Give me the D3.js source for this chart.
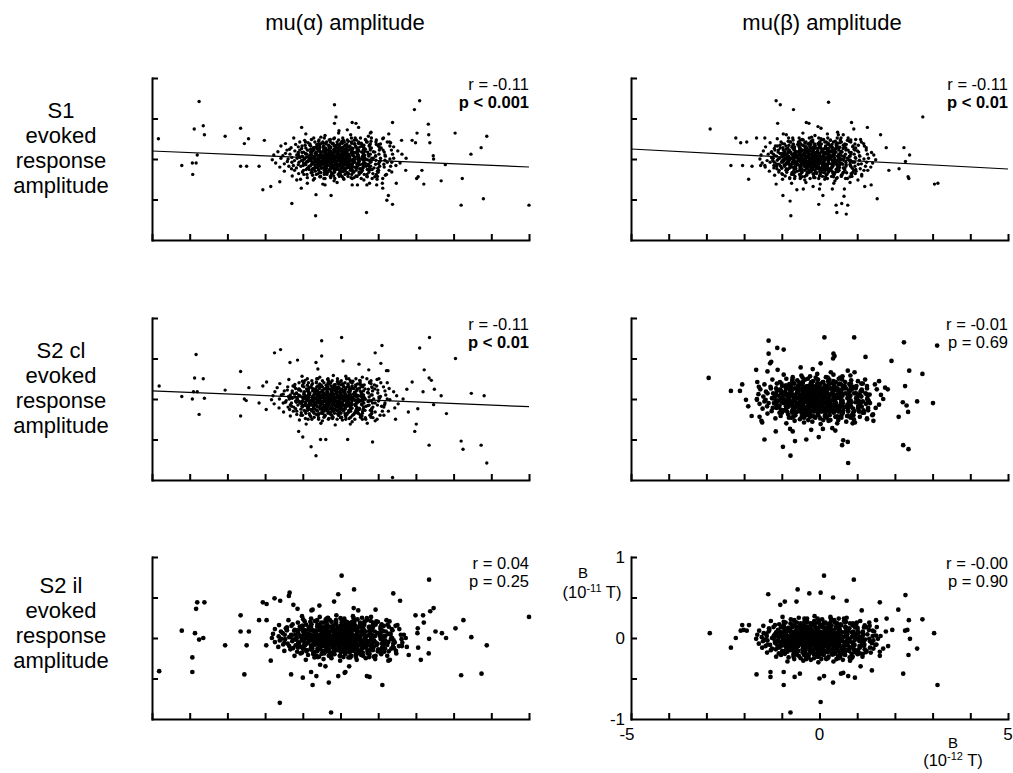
<!DOCTYPE html>
<html>
<head>
<meta charset="utf-8">
<script src="https://cdn.jsdelivr.net/npm/d3@7"></script>
<style>
  html, body { margin: 0; padding: 0; background: #fff; }
  svg { display: block; font-family: "Liberation Sans", Arial, sans-serif; }
</style>
</head>
<body>
<script>
// Column and row headings
const colTitles = ["mu(\u03b1) amplitude", "mu(\u03b2) amplitude"];
const rowTitles = [
  ["S1", "evoked", "response", "amplitude"],
  ["S2 cl", "evoked", "response", "amplitude"],
  ["S2 il", "evoked", "response", "amplitude"]
];

// Correlation statistics per panel (row-major: S1, S2 cl, S2 il; alpha then beta)
const rTexts = ["r = -0.11", "r = -0.11", "r = -0.11", "r = -0.01", "r = 0.04", "r = -0.00"];
const pTexts = ["p < 0.001", "p < 0.01", "p < 0.01", "p = 0.69", "p = 0.25", "p = 0.90"];
const pSignificant = [true, true, true, false, false, false];

// Regression line parameters (y = a + b x); null where no fit is drawn
const fitSlope = [-0.0198, -0.0247, -0.0195, null, null, null];
const fitIntercept = [0.0, 0.0, 0.003, null, null, null];

// Axis tick values (x in 1e-12 T, y in 1e-11 T)
const xTicks = [-5, -4, -3, -2, -1, 0, 1, 2, 3, 4, 5];
const yTicks = [-0.5, 0, 0.5, 1];
const xTickLabels = [-5, 0, 5];
const yTickLabels = [1, 0, -1];

// Trials: [mu amplitude, evoked response amplitude]
const alphaS1 = [
  [-4.83,0.25],[-3.75,0.71],[-3.88,0.37],[-3.64,0.41],[-3.61,0.30],[-3.80,0.05],[-4.21,-0.08],[-3.93,-0.05],[-3.83,-0.05],[-3.92,-0.19],
  [-3.06,0.28],[-2.65,0.38],[-2.44,0.25],[-2.55,0.19],[-2.65,-0.09],[-2.49,-0.09],[-2.16,-0.09],[-2.02,0.23],[-2.06,-0.38],[-1.85,-0.34],
  [-1.29,-0.55],[-0.66,-0.70],[-0.65,-0.44],[-0.25,-0.45],[0.69,-0.66],[-0.16,0.67],[-0.12,0.52],[-0.16,0.44],[0.31,0.45],[0.41,0.44],
  [0.48,0.39],[-1.03,0.39],[1.38,0.45],[1.96,0.61],[2.10,0.72],[2.33,0.43],[2.34,0.30],[2.37,0.20],[2.03,0.32],[1.28,0.31],
  [1.30,0.21],[1.62,0.23],[1.90,0.23],[1.99,0.20],[2.46,0.04],[2.47,0.00],[2.78,-0.07],[3.04,0.32],[3.46,0.06],[3.73,0.14],
  [3.88,0.28],[3.23,-0.24],[2.67,-0.27],[3.20,-0.57],[3.79,-0.49],[5.00,-0.57],[2.21,-0.31],[2.06,-0.22],[2.02,-0.24],[2.16,-0.14],
  [1.73,-0.14],[1.38,-0.56],[1.27,-0.45],[1.23,-0.51],[1.12,-0.36],[1.11,-0.30],[1.48,-0.30],[0.96,-0.32],[0.70,-0.32],[0.45,-0.32],
  [-1.16,-0.26],[-1.04,-0.36],[-1.61,-0.28],[-0.41,-0.32],[0.18,0.36],[-0.04,0.35],[0.79,0.32],[0.81,0.33],
  [-0.92,0.31],[-0.41,0.29],[-0.05,0.32],[0.27,0.30],[0.74,0.28],
  [-1.24,0.26],[-0.77,0.24],[-0.52,0.27],[-0.18,0.25],[0.08,0.23],[0.39,0.26],[0.66,0.24],[1.12,0.25],
  [-1.46,0.19],[-1.08,0.21],[-0.86,0.20],[-0.63,0.18],[-0.37,0.21],[-0.22,0.19],[0.02,0.20],[0.21,0.22],[0.48,0.19],[0.71,0.21],[0.95,0.18],[1.33,0.20],
  [-1.58,0.16],[-1.31,0.14],[-1.12,0.15],[-0.94,0.17],[-0.71,0.14],[-0.55,0.16],[-0.39,0.13],[-0.26,0.15],[-0.11,0.17],[0.05,0.14],[0.18,0.16],[0.33,0.13],[0.52,0.15],[0.77,0.17],[1.04,0.14],[1.41,0.15],
  [-1.66,0.09],[-1.42,0.11],[-1.21,0.10],[-1.02,0.08],[-0.88,0.11],[-0.74,0.10],[-0.61,0.12],[-0.48,0.09],[-0.35,0.11],[-0.24,0.08],[-0.13,0.10],[-0.02,0.12],[0.09,0.09],[0.22,0.11],[0.36,0.08],[0.49,0.10],[0.66,0.12],[0.87,0.09],[1.13,0.11],[1.52,0.10],
  [-1.77,0.05],[-1.53,0.04],[-1.34,0.06],[-1.16,0.05],[-1.01,0.03],[-0.89,0.06],[-0.78,0.04],[-0.67,0.07],[-0.56,0.05],[-0.46,0.03],[-0.37,0.06],[-0.28,0.04],[-0.19,0.07],[-0.09,0.05],[0.01,0.03],[0.11,0.06],[0.21,0.04],[0.32,0.07],[0.44,0.05],[0.58,0.03],[0.74,0.06],[0.93,0.04],[1.18,0.05],[1.63,0.06],
  [-1.81,-0.01],[-1.58,0.01],[-1.39,0.00],[-1.22,-0.02],[-1.07,0.02],[-0.95,0.00],[-0.84,-0.01],[-0.73,0.01],[-0.63,-0.02],[-0.54,0.02],[-0.45,0.00],[-0.36,-0.01],[-0.27,0.01],[-0.18,-0.02],[-0.08,0.02],[0.02,0.00],[0.12,-0.01],[0.22,0.01],[0.33,-0.02],[0.45,0.02],[0.57,0.00],[0.71,-0.01],[0.87,0.01],[1.06,-0.02],[1.31,0.00],[1.74,0.01],
  [-1.72,-0.05],[-1.49,-0.06],[-1.29,-0.04],[-1.12,-0.07],[-0.98,-0.05],[-0.86,-0.03],[-0.75,-0.06],[-0.64,-0.04],[-0.53,-0.07],[-0.43,-0.05],[-0.33,-0.03],[-0.24,-0.06],[-0.14,-0.04],[-0.04,-0.07],[0.06,-0.05],[0.16,-0.03],[0.27,-0.06],[0.38,-0.04],[0.51,-0.07],[0.64,-0.05],[0.81,-0.03],[1.01,-0.06],[1.24,-0.04],[1.58,-0.05],
  [-1.61,-0.10],[-1.37,-0.09],[-1.17,-0.11],[-0.99,-0.08],[-0.84,-0.10],[-0.71,-0.12],[-0.58,-0.09],[-0.46,-0.11],[-0.34,-0.08],[-0.23,-0.10],[-0.12,-0.12],[-0.01,-0.09],[0.11,-0.11],[0.23,-0.08],[0.36,-0.10],[0.51,-0.12],[0.68,-0.09],[0.89,-0.11],[1.16,-0.10],[1.47,-0.08],
  [-1.49,-0.15],[-1.22,-0.14],[-1.01,-0.16],[-0.83,-0.13],[-0.67,-0.15],[-0.52,-0.17],[-0.38,-0.14],[-0.25,-0.16],[-0.11,-0.13],[0.03,-0.15],[0.17,-0.17],[0.32,-0.14],[0.49,-0.16],[0.71,-0.13],[0.98,-0.15],[1.36,-0.16],
  [-1.28,-0.21],[-0.97,-0.19],[-0.74,-0.20],[-0.55,-0.22],[-0.36,-0.19],[-0.18,-0.21],[0.01,-0.20],[0.19,-0.18],[0.41,-0.21],[0.63,-0.19],[0.91,-0.22],[1.19,-0.20],
  [-1.06,-0.25],[-0.72,-0.26],[-0.44,-0.24],[-0.17,-0.27],[0.09,-0.25],[0.36,-0.23],[0.62,-0.26],[0.97,-0.25],
  [-0.88,-0.30],[-0.47,-0.31],[-0.09,-0.29],[0.31,-0.32],[0.77,-0.30],
  [-0.95,0.23],[-0.58,0.22],[-0.27,0.24],[0.04,0.22],[0.36,0.23],[0.81,0.22],
  [-1.19,0.18],[-0.81,0.17],[-0.52,0.19],[-0.31,0.17],[-0.08,0.18],[0.13,0.17],[0.38,0.19],[0.62,0.17],[1.02,0.18],
  [-1.35,0.12],[-1.03,0.13],[-0.79,0.12],[-0.61,0.13],[-0.44,0.12],[-0.30,0.14],[-0.17,0.12],[-0.04,0.13],[0.12,0.12],[0.28,0.13],[0.47,0.12],[0.79,0.13],
  [-1.46,0.07],[-1.12,0.08],[-0.93,0.07],[-0.79,0.08],[-0.66,0.07],[-0.52,0.08],[-0.41,0.07],[-0.31,0.08],[-0.21,0.07],[-0.07,0.08],[0.05,0.07],[0.16,0.08],[0.28,0.07],[0.42,0.08],[0.61,0.07],
  [-1.29,0.02],[-1.10,0.03],[-0.91,0.02],[-0.79,0.03],[-0.68,0.02],[-0.58,0.03],[-0.49,0.02],[-0.40,0.03],[-0.31,0.02],[-0.22,0.03],[-0.13,0.02],[-0.03,0.03],[0.07,0.02],[0.18,0.03],[0.38,0.02],[0.62,0.03],
  [-1.41,-0.03],[-1.04,-0.02],[-0.89,-0.03],[-0.78,-0.02],[-0.68,-0.03],[-0.58,-0.02],[-0.49,-0.03],[-0.40,-0.02],[-0.31,-0.03],[-0.22,-0.02],[-0.13,-0.03],[-0.03,-0.02],[0.08,-0.03],[0.27,-0.02],[0.50,-0.03],[0.78,-0.02],
  [-1.25,-0.08],[-0.92,-0.07],[-0.79,-0.08],[-0.68,-0.07],[-0.57,-0.08],[-0.48,-0.07],[-0.38,-0.08],[-0.29,-0.07],[-0.19,-0.08],[-0.09,-0.07],[0.01,-0.08],[0.12,-0.07],[0.29,-0.08],[0.44,-0.07],[0.73,-0.08],
  [-1.30,-0.12],[-0.91,-0.13],[-0.74,-0.12],[-0.58,-0.13],[-0.42,-0.12],[-0.29,-0.13],[-0.17,-0.12],[-0.05,-0.13],[0.09,-0.12],[0.27,-0.13],[0.55,-0.12],[0.84,-0.13],
  [-1.11,-0.18],[-0.78,-0.17],[-0.59,-0.18],[-0.42,-0.17],[-0.21,-0.18],[-0.03,-0.17],[0.22,-0.18],[0.53,-0.17],[0.86,-0.18],
  [-0.88,-0.23],[-0.53,-0.22],[-0.26,-0.23],[0.05,-0.22],[0.28,-0.23],[0.71,-0.22]
];
// dense centre of the same panel, listed per response level: [y, [x ...]]
const alphaS1Dense = [
  [0.26, [-0.71,-0.43,-0.16,0.06,0.29,0.53,0.82,1.14]],
  [0.21, [-0.93,-0.68,-0.47,-0.27,-0.09,0.10,0.29,0.48,0.69,0.94,1.24]],
  [0.16, [-1.02,-0.79,-0.61,-0.45,-0.31,-0.17,-0.03,0.11,0.25,0.40,0.57,0.76,1.00,1.31]],
  [0.11, [-1.08,-0.86,-0.70,-0.56,-0.43,-0.30,-0.18,-0.07,0.05,0.17,0.30,0.44,0.60,0.79,1.03,1.35]],
  [0.06, [-1.12,-0.92,-0.77,-0.64,-0.52,-0.41,-0.30,-0.20,-0.10,0.00,0.10,0.21,0.33,0.46,0.61,0.79,1.02,1.38]],
  [0.01, [-1.15,-0.96,-0.81,-0.68,-0.57,-0.46,-0.36,-0.26,-0.16,-0.06,0.04,0.14,0.25,0.37,0.50,0.65,0.83,1.06,1.41]],
  [-0.04, [-1.10,-0.90,-0.75,-0.62,-0.51,-0.40,-0.30,-0.20,-0.10,0.00,0.11,0.22,0.34,0.47,0.62,0.80,1.03,1.36]],
  [-0.09, [-1.05,-0.83,-0.67,-0.53,-0.40,-0.28,-0.17,-0.05,0.06,0.18,0.31,0.45,0.61,0.80,1.04,1.33]],
  [-0.14, [-0.98,-0.76,-0.58,-0.43,-0.29,-0.16,-0.02,0.12,0.26,0.41,0.58,0.77,1.01,1.29]],
  [-0.19, [-0.89,-0.64,-0.43,-0.24,-0.06,0.12,0.30,0.49,0.70,0.95,1.22]],
  [-0.24, [-0.69,-0.41,-0.15,0.08,0.31,0.55,0.84,1.12]],
  [0.235, [-0.57,-0.30,-0.05,0.18,0.42,0.67,0.95]],
  [0.185, [-0.81,-0.58,-0.38,-0.19,-0.01,0.17,0.36,0.56,0.79,1.06]],
  [0.135, [-0.92,-0.72,-0.55,-0.40,-0.26,-0.12,0.02,0.16,0.30,0.45,0.62,0.82,1.08]],
  [0.085, [-0.98,-0.79,-0.64,-0.51,-0.39,-0.27,-0.16,-0.05,0.06,0.17,0.29,0.42,0.56,0.72,0.91,1.16]],
  [0.035, [-1.02,-0.84,-0.70,-0.57,-0.46,-0.36,-0.26,-0.16,-0.06,0.04,0.14,0.24,0.35,0.47,0.60,0.75,0.93,1.19]],
  [-0.015, [-1.00,-0.82,-0.68,-0.56,-0.45,-0.35,-0.25,-0.15,-0.05,0.05,0.15,0.25,0.36,0.48,0.61,0.76,0.94,1.18]],
  [-0.065, [-0.95,-0.76,-0.61,-0.48,-0.36,-0.25,-0.14,-0.03,0.08,0.19,0.31,0.44,0.58,0.74,0.93,1.15]],
  [-0.115, [-0.88,-0.68,-0.51,-0.37,-0.23,-0.10,0.03,0.16,0.29,0.43,0.59,0.77,0.99]],
  [-0.165, [-0.75,-0.53,-0.34,-0.16,0.01,0.18,0.35,0.54,0.75,1.00]],
  [-0.215, [-0.53,-0.27,-0.03,0.20,0.44,0.70,0.98]],
  [0.195, [-0.45,-0.20,0.05,0.30,0.55]],
  [0.145, [-0.66,-0.46,-0.28,-0.11,0.06,0.23,0.41,0.61]],
  [0.095, [-0.75,-0.57,-0.41,-0.26,-0.12,0.02,0.16,0.31,0.47,0.65]],
  [0.045, [-0.80,-0.63,-0.48,-0.34,-0.21,-0.08,0.05,0.18,0.32,0.47,0.64]],
  [-0.005, [-0.79,-0.62,-0.47,-0.33,-0.20,-0.07,0.06,0.19,0.33,0.48,0.65]],
  [-0.055, [-0.74,-0.56,-0.40,-0.25,-0.11,0.03,0.17,0.32,0.48,0.66]],
  [-0.105, [-0.62,-0.43,-0.26,-0.10,0.06,0.22,0.40,0.60]],
  [-0.155, [-0.40,-0.16,0.08,0.32,0.56]]
];

const betaS1 = [
  [-2.90,0.37],[-2.22,0.26],[-2.09,0.20],[-1.93,0.21],[-1.67,0.26],[-1.45,0.26],[-2.35,-0.08],[-2.04,-0.08],[-1.79,-0.09],[-1.88,-0.25],
  [-1.56,-0.08],[-1.45,-0.08],[-1.15,0.72],[-1.04,0.67],[-0.69,0.61],[0.24,0.70],[-1.11,0.44],[-0.96,0.31],[-0.35,0.45],[-0.28,0.44],
  [-0.04,0.40],[0.04,0.38],[0.48,0.33],[0.50,0.30],[0.85,0.45],[0.91,0.37],[1.27,0.39],[1.09,0.24],[1.62,0.30],[1.77,0.14],
  [2.24,0.14],[2.74,0.52],[2.39,0.05],[2.28,-0.03],[2.11,-0.12],[2.35,-0.22],[2.37,-0.24],[1.84,-0.14],[3.05,-0.31],[3.14,-0.30],
  [1.53,-0.49],[1.20,-0.34],[1.37,-0.32],[-0.97,-0.45],[-0.78,-0.52],[-0.76,-0.70],[-0.60,-0.38],[-1.15,-0.31],[-0.43,-0.37],[-0.02,-0.56],
  [0.00,-0.37],[0.09,-0.45],[0.44,-0.57],[0.59,-0.55],[0.75,-0.57],[0.46,-0.66],[0.71,-0.68],[0.65,-0.46],[0.34,-0.37],[-0.17,-0.34],[0.66,-0.37],
  [-0.88,0.30],[-0.44,0.32],[-0.12,0.29],[0.21,0.31],[0.63,0.30],
  [-1.12,0.25],[-0.71,0.26],[-0.46,0.24],[-0.21,0.27],[0.04,0.25],[0.29,0.23],[0.57,0.26],[0.96,0.24],
  [-1.31,0.20],[-0.98,0.19],[-0.77,0.21],[-0.58,0.18],[-0.39,0.20],[-0.22,0.22],[-0.04,0.19],[0.14,0.21],[0.33,0.18],[0.54,0.20],[0.79,0.22],[1.17,0.19],
  [-1.43,0.15],[-1.17,0.16],[-0.97,0.14],[-0.81,0.17],[-0.66,0.15],[-0.52,0.13],[-0.38,0.16],[-0.25,0.14],[-0.12,0.17],[0.01,0.15],[0.14,0.13],[0.28,0.16],[0.44,0.14],[0.63,0.17],[0.88,0.15],[1.24,0.14],
  [-1.49,0.10],[-1.27,0.09],[-1.09,0.11],[-0.94,0.08],[-0.81,0.10],[-0.69,0.12],[-0.57,0.09],[-0.46,0.11],[-0.35,0.08],[-0.25,0.10],[-0.15,0.12],[-0.05,0.09],[0.06,0.11],[0.17,0.08],[0.29,0.10],[0.42,0.12],[0.57,0.09],[0.76,0.11],[1.01,0.10],[1.38,0.08],
  [-1.55,0.05],[-1.36,0.06],[-1.19,0.04],[-1.05,0.07],[-0.93,0.05],[-0.82,0.03],[-0.72,0.06],[-0.62,0.04],[-0.53,0.07],[-0.44,0.05],[-0.35,0.03],[-0.27,0.06],[-0.18,0.04],[-0.09,0.07],[0.00,0.05],[0.09,0.03],[0.19,0.06],[0.29,0.04],[0.40,0.07],[0.52,0.05],[0.66,0.03],[0.83,0.06],[1.06,0.04],[1.44,0.05],
  [-1.58,0.00],[-1.39,-0.02],[-1.23,0.01],[-1.09,0.00],[-0.97,-0.01],[-0.86,0.02],[-0.76,0.00],[-0.67,-0.02],[-0.58,0.01],[-0.49,0.00],[-0.41,-0.01],[-0.32,0.02],[-0.24,0.00],[-0.15,-0.02],[-0.06,0.01],[0.03,0.00],[0.12,-0.01],[0.21,0.02],[0.31,0.00],[0.41,-0.02],[0.52,0.01],[0.64,0.00],[0.78,-0.01],[0.95,0.02],[1.18,0.00],[1.49,-0.01],
  [-1.52,-0.05],[-1.31,-0.04],[-1.14,-0.06],[-1.00,-0.03],[-0.88,-0.05],[-0.77,-0.07],[-0.67,-0.04],[-0.58,-0.06],[-0.49,-0.03],[-0.40,-0.05],[-0.31,-0.07],[-0.22,-0.04],[-0.13,-0.06],[-0.04,-0.03],[0.05,-0.05],[0.14,-0.07],[0.24,-0.04],[0.34,-0.06],[0.45,-0.03],[0.57,-0.05],[0.71,-0.07],[0.88,-0.04],[1.11,-0.06],[1.41,-0.05],
  [-1.44,-0.10],[-1.21,-0.11],[-1.03,-0.09],[-0.88,-0.12],[-0.75,-0.10],[-0.63,-0.08],[-0.52,-0.11],[-0.41,-0.09],[-0.31,-0.12],[-0.21,-0.10],[-0.11,-0.08],[-0.01,-0.11],[0.10,-0.09],[0.21,-0.12],[0.33,-0.10],[0.47,-0.08],[0.63,-0.11],[0.83,-0.09],[1.08,-0.12],[1.36,-0.10],
  [-1.33,-0.15],[-1.08,-0.16],[-0.89,-0.14],[-0.73,-0.17],[-0.59,-0.15],[-0.46,-0.13],[-0.33,-0.16],[-0.20,-0.14],[-0.07,-0.17],[0.06,-0.15],[0.20,-0.13],[0.35,-0.16],[0.52,-0.14],[0.72,-0.17],[0.97,-0.15],[1.28,-0.14],
  [-1.19,-0.20],[-0.91,-0.21],[-0.69,-0.19],[-0.51,-0.22],[-0.34,-0.20],[-0.17,-0.18],[0.00,-0.21],[0.18,-0.19],[0.37,-0.22],[0.58,-0.20],[0.84,-0.18],[1.12,-0.21],
  [-0.98,-0.25],[-0.66,-0.24],[-0.39,-0.26],[-0.12,-0.23],[0.14,-0.25],[0.41,-0.27],[0.69,-0.24],[1.02,-0.26],
  [-0.74,-0.30],[-0.36,-0.29],[0.02,-0.31],[0.38,-0.30],[0.81,-0.29],
  [-0.83,0.22],[-0.51,0.23],[-0.19,0.22],[0.11,0.24],[0.42,0.22],[0.74,0.23],
  [-1.05,0.17],[-0.69,0.18],[-0.45,0.17],[-0.23,0.18],[-0.01,0.17],[0.22,0.18],[0.45,0.17],[0.71,0.18],[1.03,0.17],
  [-1.20,0.13],[-0.89,0.12],[-0.67,0.13],[-0.49,0.12],[-0.33,0.13],[-0.18,0.12],[-0.04,0.13],[0.10,0.12],[0.24,0.13],[0.41,0.12],[0.63,0.13],[0.92,0.12],
  [-1.28,0.08],[-1.00,0.07],[-0.82,0.08],[-0.67,0.07],[-0.54,0.08],[-0.42,0.07],[-0.31,0.08],[-0.20,0.07],[-0.10,0.08],[0.01,0.07],[0.12,0.08],[0.24,0.07],[0.37,0.08],[0.55,0.07],[0.84,0.08],
  [-1.27,0.02],[-0.99,0.03],[-0.83,0.02],[-0.70,0.03],[-0.58,0.02],[-0.47,0.03],[-0.37,0.02],[-0.28,0.03],[-0.19,0.02],[-0.10,0.03],[-0.01,0.02],[0.09,0.03],[0.20,0.02],[0.33,0.03],[0.51,0.02],[0.79,0.03],
  [-1.24,-0.02],[-0.96,-0.03],[-0.81,-0.02],[-0.68,-0.03],[-0.56,-0.02],[-0.45,-0.03],[-0.35,-0.02],[-0.26,-0.03],[-0.17,-0.02],[-0.08,-0.03],[0.01,-0.02],[0.11,-0.03],[0.22,-0.02],[0.35,-0.03],[0.53,-0.02],[0.81,-0.03],
  [-1.21,-0.08],[-0.94,-0.07],[-0.79,-0.08],[-0.65,-0.07],[-0.53,-0.08],[-0.42,-0.07],[-0.32,-0.08],[-0.22,-0.07],[-0.12,-0.08],[-0.02,-0.07],[0.09,-0.08],[0.21,-0.07],[0.36,-0.08],[0.54,-0.07],[0.82,-0.08],
  [-1.13,-0.12],[-0.85,-0.13],[-0.64,-0.12],[-0.47,-0.13],[-0.32,-0.12],[-0.18,-0.13],[-0.04,-0.12],[0.10,-0.13],[0.26,-0.12],[0.44,-0.13],[0.67,-0.12],[0.96,-0.13],
  [-1.00,-0.18],[-0.71,-0.17],[-0.49,-0.18],[-0.28,-0.17],[-0.08,-0.18],[0.13,-0.17],[0.36,-0.18],[0.63,-0.17],[0.95,-0.18],
  [-0.79,-0.23],[-0.46,-0.22],[-0.15,-0.23],[0.16,-0.22],[0.47,-0.23],[0.81,-0.22]
];
const betaS1Dense = [
  [0.26, [-0.82,-0.54,-0.27,-0.02,0.22,0.47,0.76]],
  [0.21, [-1.02,-0.77,-0.56,-0.36,-0.18,0.00,0.18,0.37,0.58,0.83,1.11]],
  [0.16, [-1.12,-0.89,-0.71,-0.55,-0.40,-0.26,-0.12,0.02,0.16,0.31,0.47,0.66,0.89,1.19]],
  [0.11, [-1.18,-0.96,-0.80,-0.66,-0.53,-0.40,-0.28,-0.16,-0.04,0.08,0.21,0.35,0.51,0.70,0.94,1.24]],
  [0.06, [-1.22,-1.02,-0.87,-0.74,-0.62,-0.51,-0.40,-0.30,-0.20,-0.10,0.00,0.11,0.23,0.36,0.51,0.69,0.92,1.27]],
  [0.01, [-1.25,-1.06,-0.91,-0.78,-0.67,-0.56,-0.46,-0.36,-0.26,-0.16,-0.06,0.04,0.15,0.27,0.40,0.55,0.73,0.96,1.30]],
  [-0.04, [-1.20,-1.00,-0.85,-0.72,-0.61,-0.50,-0.40,-0.30,-0.20,-0.10,0.01,0.12,0.24,0.37,0.52,0.70,0.93,1.25]],
  [-0.09, [-1.14,-0.93,-0.77,-0.63,-0.50,-0.38,-0.27,-0.15,-0.04,0.08,0.21,0.35,0.51,0.70,0.94,1.22]],
  [-0.14, [-1.07,-0.86,-0.68,-0.53,-0.39,-0.26,-0.12,0.02,0.16,0.31,0.48,0.67,0.91,1.18]],
  [-0.19, [-0.98,-0.74,-0.53,-0.34,-0.16,0.02,0.20,0.39,0.60,0.85,1.12]],
  [-0.24, [-0.79,-0.51,-0.25,-0.02,0.21,0.45,0.74]],
  [0.235, [-0.70,-0.43,-0.18,0.05,0.29,0.55,0.83]],
  [0.185, [-0.93,-0.70,-0.50,-0.31,-0.13,0.05,0.24,0.44,0.67,0.94]],
  [0.135, [-1.04,-0.84,-0.67,-0.52,-0.38,-0.24,-0.10,0.04,0.18,0.33,0.50,0.70,0.96]],
  [0.085, [-1.10,-0.91,-0.76,-0.63,-0.51,-0.39,-0.28,-0.17,-0.06,0.05,0.17,0.30,0.44,0.60,0.79,1.04]],
  [0.035, [-1.14,-0.96,-0.82,-0.69,-0.58,-0.48,-0.38,-0.28,-0.18,-0.08,0.02,0.12,0.23,0.35,0.48,0.63,0.81,1.07]],
  [-0.015, [-1.12,-0.94,-0.80,-0.68,-0.57,-0.47,-0.37,-0.27,-0.17,-0.07,0.03,0.13,0.24,0.36,0.49,0.64,0.82,1.06]],
  [-0.065, [-1.07,-0.88,-0.73,-0.60,-0.48,-0.37,-0.26,-0.15,-0.04,0.07,0.19,0.32,0.46,0.62,0.81,1.03]],
  [-0.115, [-1.00,-0.80,-0.63,-0.49,-0.35,-0.22,-0.09,0.04,0.17,0.31,0.47,0.65,0.87]],
  [-0.165, [-0.87,-0.65,-0.46,-0.28,-0.11,0.06,0.23,0.42,0.63,0.88]],
  [-0.215, [-0.65,-0.39,-0.15,0.08,0.32,0.58,0.86]],
  [0.195, [-0.52,-0.27,-0.02,0.23,0.48]],
  [0.145, [-0.73,-0.53,-0.35,-0.18,-0.01,0.16,0.34,0.54]],
  [0.095, [-0.82,-0.64,-0.48,-0.33,-0.19,-0.05,0.09,0.24,0.40,0.58]],
  [0.045, [-0.87,-0.70,-0.55,-0.41,-0.28,-0.15,-0.02,0.11,0.25,0.40,0.57]],
  [-0.005, [-0.86,-0.69,-0.54,-0.40,-0.27,-0.14,-0.01,0.12,0.26,0.41,0.58]],
  [-0.055, [-0.81,-0.63,-0.47,-0.32,-0.18,-0.04,0.10,0.25,0.41,0.59]],
  [-0.105, [-0.69,-0.50,-0.33,-0.17,-0.01,0.15,0.33,0.53]],
  [-0.155, [-0.47,-0.23,0.01,0.25,0.49]]
];

const alphaS2cl = [
  [-4.81,0.16],[-4.21,0.03],[-3.93,0.00],[-3.90,0.09],[-3.80,0.09],[-3.83,0.55],[-3.87,0.26],[-3.64,0.25],[-3.75,-0.19],[-3.61,0.01],
  [-3.06,0.11],[-2.65,0.34],[-2.43,0.14],[-2.65,-0.21],[-2.55,0.00],[-2.50,-0.02],[-2.16,-0.05],[-2.06,0.16],[-1.96,0.21],[-1.97,-0.13],
  [-1.75,0.57],[-1.59,0.61],[-1.34,0.45],[-1.14,0.48],[-1.11,-0.40],[-1.00,-0.47],[-0.78,-0.59],[-0.65,-0.70],[-0.53,-0.50],[-0.39,-0.50],
  [-0.50,0.72],[-0.50,0.53],[-0.65,0.45],[-0.60,0.37],[0.03,0.76],[0.07,0.47],[0.49,0.43],[0.19,-0.50],[0.85,-0.53],[0.92,0.57],
  [1.10,0.66],[1.07,0.44],[1.22,0.35],[1.26,0.35],[0.75,0.36],[1.38,-0.97],[1.46,-0.25],[1.76,0.12],[1.90,0.21],[2.10,0.63],
  [2.36,0.76],[2.22,0.36],[2.35,0.26],[2.41,0.23],[2.19,0.09],[2.49,0.12],[2.47,-0.07],[2.67,0.04],[2.81,-0.18],[2.35,-0.57],
  [1.97,-0.40],[2.01,-0.31],[2.05,-0.12],[1.80,-0.16],[3.05,0.50],[3.47,0.07],[3.81,0.04],[3.20,-0.52],[3.25,-0.62],[3.73,-0.57],[3.88,-0.79],
  [-1.02,0.28],[-0.55,0.27],[-0.19,0.29],[0.14,0.28],[0.58,0.27],
  [-1.37,0.24],[-0.94,0.23],[-0.63,0.25],[-0.34,0.24],[-0.08,0.22],[0.22,0.25],[0.51,0.23],[0.97,0.24],
  [-1.61,0.19],[-1.21,0.18],[-0.97,0.20],[-0.74,0.19],[-0.51,0.17],[-0.33,0.20],[-0.14,0.18],[0.06,0.19],[0.27,0.21],[0.52,0.18],[0.81,0.19],[1.24,0.20],
  [-1.68,0.14],[-1.40,0.15],[-1.19,0.13],[-1.01,0.16],[-0.84,0.14],[-0.68,0.12],[-0.53,0.15],[-0.39,0.13],[-0.25,0.16],[-0.11,0.14],[0.03,0.12],[0.18,0.15],[0.35,0.13],[0.56,0.16],[0.84,0.14],[1.29,0.13],
  [-1.74,0.09],[-1.49,0.10],[-1.28,0.08],[-1.11,0.11],[-0.96,0.09],[-0.83,0.07],[-0.70,0.10],[-0.58,0.08],[-0.46,0.11],[-0.35,0.09],[-0.24,0.07],[-0.13,0.10],[-0.02,0.08],[0.10,0.11],[0.22,0.09],[0.36,0.07],[0.52,0.10],[0.72,0.08],[0.99,0.11],[1.41,0.09],
  [-1.79,0.04],[-1.57,0.05],[-1.38,0.03],[-1.22,0.06],[-1.08,0.04],[-0.96,0.02],[-0.85,0.05],[-0.74,0.03],[-0.64,0.06],[-0.54,0.04],[-0.45,0.02],[-0.36,0.05],[-0.27,0.03],[-0.18,0.06],[-0.08,0.04],[0.02,0.02],[0.12,0.05],[0.23,0.03],[0.35,0.06],[0.48,0.04],[0.63,0.02],[0.81,0.05],[1.06,0.03],[1.49,0.04],
  [-1.83,-0.01],[-1.62,0.00],[-1.44,-0.02],[-1.28,0.01],[-1.14,-0.01],[-1.02,-0.03],[-0.91,0.00],[-0.80,-0.02],[-0.70,0.01],[-0.61,-0.01],[-0.52,-0.03],[-0.43,0.00],[-0.34,-0.02],[-0.25,0.01],[-0.16,-0.01],[-0.06,-0.03],[0.04,0.00],[0.14,-0.02],[0.25,0.01],[0.37,-0.01],[0.50,-0.03],[0.65,0.00],[0.82,-0.02],[1.03,0.01],[1.31,-0.01],[1.66,0.00],
  [-1.76,-0.06],[-1.52,-0.05],[-1.33,-0.07],[-1.17,-0.04],[-1.03,-0.06],[-0.91,-0.08],[-0.80,-0.05],[-0.69,-0.07],[-0.59,-0.04],[-0.49,-0.06],[-0.40,-0.08],[-0.31,-0.05],[-0.22,-0.07],[-0.12,-0.04],[-0.02,-0.06],[0.08,-0.08],[0.19,-0.05],[0.30,-0.07],[0.43,-0.04],[0.57,-0.06],[0.73,-0.08],[0.92,-0.05],[1.17,-0.07],[1.53,-0.06],
  [-1.63,-0.11],[-1.39,-0.10],[-1.19,-0.12],[-1.02,-0.09],[-0.88,-0.11],[-0.75,-0.13],[-0.62,-0.10],[-0.50,-0.12],[-0.39,-0.09],[-0.28,-0.11],[-0.17,-0.13],[-0.06,-0.10],[0.05,-0.12],[0.17,-0.09],[0.30,-0.11],[0.45,-0.13],[0.62,-0.10],[0.83,-0.12],[1.09,-0.09],[1.44,-0.11],
  [-1.51,-0.16],[-1.25,-0.15],[-1.04,-0.17],[-0.87,-0.14],[-0.71,-0.16],[-0.57,-0.18],[-0.43,-0.15],[-0.30,-0.17],[-0.16,-0.14],[-0.02,-0.16],[0.12,-0.18],[0.27,-0.15],[0.44,-0.17],[0.65,-0.14],[0.92,-0.16],[1.27,-0.15],
  [-1.33,-0.21],[-1.01,-0.20],[-0.79,-0.22],[-0.59,-0.19],[-0.41,-0.21],[-0.23,-0.23],[-0.05,-0.20],[0.14,-0.22],[0.35,-0.19],[0.57,-0.21],[0.86,-0.23],[1.15,-0.20],
  [-1.09,-0.26],[-0.76,-0.25],[-0.48,-0.27],[-0.21,-0.24],[0.05,-0.26],[0.31,-0.28],[0.58,-0.25],[0.92,-0.27],
  [-0.91,-0.31],[-0.52,-0.30],[-0.14,-0.32],[0.26,-0.31],[0.71,-0.30],
  [-1.01,0.22],[-0.64,0.21],[-0.31,0.22],[-0.01,0.21],[0.33,0.22],[0.77,0.21],
  [-1.26,0.16],[-0.88,0.17],[-0.60,0.16],[-0.38,0.17],[-0.15,0.16],[0.07,0.17],[0.31,0.16],[0.57,0.17],[0.96,0.16],
  [-1.41,0.11],[-1.09,0.12],[-0.85,0.11],[-0.66,0.12],[-0.49,0.11],[-0.35,0.12],[-0.21,0.11],[-0.08,0.12],[0.07,0.11],[0.23,0.12],[0.43,0.11],[0.74,0.12],
  [-1.52,0.06],[-1.17,0.07],[-0.97,0.06],[-0.83,0.07],[-0.70,0.06],[-0.57,0.07],[-0.46,0.06],[-0.36,0.07],[-0.26,0.06],[-0.12,0.07],[0.00,0.06],[0.11,0.07],[0.23,0.06],[0.38,0.07],[0.57,0.06],
  [-1.34,0.01],[-1.15,0.02],[-0.96,0.01],[-0.84,0.02],[-0.73,0.01],[-0.63,0.02],[-0.54,0.01],[-0.45,0.02],[-0.36,0.01],[-0.27,0.02],[-0.18,0.01],[-0.08,0.02],[0.02,0.01],[0.13,0.02],[0.33,0.01],[0.57,0.02],
  [-1.46,-0.04],[-1.09,-0.03],[-0.94,-0.04],[-0.83,-0.03],[-0.73,-0.04],[-0.63,-0.03],[-0.54,-0.04],[-0.45,-0.03],[-0.36,-0.04],[-0.27,-0.03],[-0.18,-0.04],[-0.08,-0.03],[0.03,-0.04],[0.22,-0.03],[0.45,-0.04],[0.73,-0.03],
  [-1.30,-0.09],[-0.97,-0.08],[-0.84,-0.09],[-0.73,-0.08],[-0.62,-0.09],[-0.53,-0.08],[-0.43,-0.09],[-0.34,-0.08],[-0.24,-0.09],[-0.14,-0.08],[-0.04,-0.09],[0.07,-0.08],[0.24,-0.09],[0.39,-0.08],[0.68,-0.09],
  [-1.35,-0.13],[-0.96,-0.14],[-0.79,-0.13],[-0.63,-0.14],[-0.47,-0.13],[-0.34,-0.14],[-0.22,-0.13],[-0.10,-0.14],[0.04,-0.13],[0.22,-0.14],[0.50,-0.13],[0.79,-0.14],
  [-1.16,-0.19],[-0.83,-0.18],[-0.64,-0.19],[-0.47,-0.18],[-0.26,-0.19],[-0.08,-0.18],[0.17,-0.19],[0.48,-0.18],[0.81,-0.19],
  [-0.93,-0.24],[-0.58,-0.23],[-0.31,-0.24],[0.00,-0.23],[0.23,-0.24],[0.66,-0.23]
];
const alphaS2clDense = [
  [0.25, [-0.88,-0.60,-0.33,-0.08,0.16,0.41,0.70,1.02]],
  [0.20, [-1.10,-0.85,-0.64,-0.44,-0.26,-0.07,0.12,0.31,0.52,0.77,1.07]],
  [0.15, [-1.22,-0.97,-0.79,-0.63,-0.48,-0.34,-0.20,-0.06,0.08,0.23,0.40,0.59,0.83,1.14]],
  [0.10, [-1.28,-1.05,-0.88,-0.74,-0.61,-0.48,-0.36,-0.25,-0.13,-0.01,0.12,0.26,0.42,0.61,0.85,1.18]],
  [0.05, [-1.33,-1.11,-0.95,-0.82,-0.70,-0.59,-0.48,-0.38,-0.28,-0.18,-0.08,0.03,0.15,0.28,0.43,0.61,0.84,1.20]],
  [0.00, [-1.36,-1.15,-0.99,-0.86,-0.75,-0.64,-0.54,-0.44,-0.34,-0.24,-0.14,-0.04,0.07,0.19,0.32,0.47,0.65,0.88,1.24]],
  [-0.05, [-1.30,-1.08,-0.93,-0.80,-0.69,-0.58,-0.48,-0.38,-0.28,-0.18,-0.07,0.04,0.16,0.29,0.44,0.62,0.85,1.18]],
  [-0.10, [-1.24,-1.01,-0.85,-0.71,-0.58,-0.46,-0.35,-0.23,-0.12,0.00,0.13,0.27,0.43,0.62,0.86,1.15]],
  [-0.15, [-1.16,-0.94,-0.76,-0.61,-0.47,-0.34,-0.20,-0.06,0.08,0.23,0.40,0.59,0.83,1.11]],
  [-0.20, [-1.05,-0.81,-0.60,-0.41,-0.23,-0.05,0.13,0.32,0.53,0.78,1.05]],
  [-0.25, [-0.86,-0.58,-0.32,-0.09,0.14,0.38,0.67,0.97]],
  [0.225, [-0.76,-0.48,-0.22,0.02,0.26,0.52,0.81]],
  [0.175, [-1.00,-0.76,-0.55,-0.35,-0.17,0.01,0.20,0.40,0.63,0.90]],
  [0.125, [-1.11,-0.90,-0.72,-0.57,-0.43,-0.29,-0.15,-0.01,0.13,0.28,0.45,0.65,0.91]],
  [0.075, [-1.17,-0.97,-0.81,-0.68,-0.56,-0.44,-0.33,-0.22,-0.11,0.00,0.12,0.25,0.39,0.55,0.74,0.99]],
  [0.025, [-1.21,-1.02,-0.87,-0.74,-0.63,-0.53,-0.43,-0.33,-0.23,-0.13,-0.03,0.07,0.18,0.30,0.43,0.58,0.76,1.02]],
  [-0.025, [-1.19,-1.00,-0.85,-0.73,-0.62,-0.52,-0.42,-0.32,-0.22,-0.12,-0.02,0.08,0.19,0.31,0.44,0.59,0.77,1.01]],
  [-0.075, [-1.13,-0.93,-0.78,-0.65,-0.53,-0.42,-0.31,-0.20,-0.09,0.02,0.14,0.27,0.41,0.57,0.76,0.98]],
  [-0.125, [-1.05,-0.85,-0.68,-0.54,-0.40,-0.27,-0.14,-0.01,0.12,0.26,0.42,0.60,0.82]],
  [-0.175, [-0.92,-0.70,-0.51,-0.33,-0.16,0.01,0.18,0.37,0.58,0.83]],
  [-0.225, [-0.70,-0.44,-0.20,0.03,0.27,0.53,0.81]],
  [0.185, [-0.55,-0.30,-0.05,0.20,0.45]],
  [0.135, [-0.76,-0.56,-0.38,-0.21,-0.04,0.13,0.31,0.51]],
  [0.085, [-0.85,-0.67,-0.51,-0.36,-0.22,-0.08,0.06,0.21,0.37,0.55]],
  [0.035, [-0.90,-0.73,-0.58,-0.44,-0.31,-0.18,-0.05,0.08,0.22,0.37,0.54]],
  [-0.015, [-0.89,-0.72,-0.57,-0.43,-0.30,-0.17,-0.04,0.09,0.23,0.38,0.55]],
  [-0.065, [-0.84,-0.66,-0.50,-0.35,-0.21,-0.07,0.07,0.22,0.38,0.56]],
  [-0.115, [-0.72,-0.53,-0.36,-0.20,-0.04,0.12,0.30,0.50]],
  [-0.165, [-0.50,-0.26,-0.02,0.22,0.46]]
];

const betaS2cl = [
  [-2.94,0.26],[-2.35,0.10],[-2.11,0.10],[-2.05,0.18],[-1.95,-0.01],[-1.89,-0.09],[-1.80,-0.21],[-1.59,-0.22],[-1.54,-0.27],[-1.52,-0.29],
  [-1.46,-0.50],[-1.35,0.72],[-1.35,0.56],[-1.28,0.46],[-1.31,0.44],[-1.12,0.63],[-0.95,0.61],[-1.68,0.36],[-1.38,0.34],[-1.11,0.36],
  [-1.65,0.21],[-1.61,0.15],[-1.66,-0.01],[-1.16,-0.40],[-0.97,-0.59],[-0.78,-0.37],[-0.71,-0.40],[-0.77,-0.70],[-0.65,-0.52],[-0.35,-0.50],
  [-0.02,-0.47],[-0.22,-0.38],[0.13,0.76],[0.03,0.44],[0.37,0.56],[0.40,0.53],[0.36,0.50],[0.92,0.76],[1.22,0.52],[-0.50,0.39],
  [-0.18,0.37],[0.30,0.33],[0.75,0.35],[0.93,0.33],[1.91,0.47],[2.24,0.70],[3.12,0.66],[2.38,0.35],[2.73,0.31],[2.27,0.16],
  [1.58,0.22],[1.74,0.14],[1.81,0.12],[2.21,-0.04],[2.31,-0.08],[2.35,-0.16],[2.59,-0.03],[3.01,-0.05],[2.10,-0.22],[2.22,-0.57],
  [2.36,-0.62],[0.60,-0.57],[0.75,-0.53],[0.63,-0.51],[0.76,-0.79],[0.34,-0.36],[1.26,-0.25],[1.43,-0.27],[1.40,-0.20],[0.88,-0.30],
  [0.42,-0.39],[0.09,-0.37],
  [-0.95,0.30],[-0.48,0.29],[-0.06,0.31],[0.37,0.30],[0.82,0.29],
  [-1.25,0.24],[-0.88,0.25],[-0.59,0.23],[-0.31,0.25],[-0.04,0.24],[0.23,0.22],[0.51,0.25],[0.84,0.23],[1.21,0.24],
  [-1.46,0.18],[-1.13,0.19],[-0.89,0.17],[-0.67,0.19],[-0.46,0.18],[-0.26,0.16],[-0.06,0.19],[0.14,0.17],[0.35,0.19],[0.57,0.18],[0.82,0.16],[1.11,0.19],[1.47,0.18],
  [-1.57,0.12],[-1.29,0.13],[-1.07,0.11],[-0.89,0.13],[-0.72,0.12],[-0.56,0.10],[-0.41,0.13],[-0.27,0.11],[-0.13,0.13],[0.01,0.12],[0.15,0.10],[0.30,0.13],[0.46,0.11],[0.64,0.13],[0.86,0.12],[1.13,0.10],[1.52,0.12],
  [-1.62,0.06],[-1.38,0.07],[-1.18,0.05],[-1.01,0.07],[-0.86,0.06],[-0.73,0.04],[-0.60,0.07],[-0.48,0.05],[-0.36,0.07],[-0.25,0.06],[-0.14,0.04],[-0.03,0.07],[0.08,0.05],[0.19,0.07],[0.31,0.06],[0.44,0.04],[0.59,0.07],[0.76,0.05],[0.97,0.07],[1.25,0.06],[1.63,0.05],
  [-1.66,0.00],[-1.43,-0.01],[-1.24,0.01],[-1.08,-0.02],[-0.94,0.00],[-0.81,0.02],[-0.69,-0.01],[-0.58,0.01],[-0.47,-0.02],[-0.37,0.00],[-0.27,0.02],[-0.17,-0.01],[-0.07,0.01],[0.03,-0.02],[0.13,0.00],[0.24,0.02],[0.35,-0.01],[0.47,0.01],[0.61,-0.02],[0.78,0.00],[0.99,0.02],[1.27,-0.01],[1.69,0.00],
  [-1.59,-0.06],[-1.35,-0.05],[-1.15,-0.07],[-0.99,-0.04],[-0.85,-0.06],[-0.72,-0.08],[-0.60,-0.05],[-0.49,-0.07],[-0.38,-0.04],[-0.27,-0.06],[-0.16,-0.08],[-0.05,-0.05],[0.06,-0.07],[0.17,-0.04],[0.29,-0.06],[0.42,-0.08],[0.57,-0.05],[0.74,-0.07],[0.95,-0.04],[1.23,-0.06],[1.58,-0.07],
  [-1.51,-0.12],[-1.24,-0.11],[-1.03,-0.13],[-0.86,-0.10],[-0.70,-0.12],[-0.55,-0.14],[-0.41,-0.11],[-0.27,-0.13],[-0.13,-0.10],[0.01,-0.12],[0.15,-0.14],[0.30,-0.11],[0.47,-0.13],[0.66,-0.10],[0.89,-0.12],[1.17,-0.14],[1.49,-0.11],
  [-1.38,-0.18],[-1.06,-0.17],[-0.83,-0.19],[-0.62,-0.16],[-0.42,-0.18],[-0.23,-0.20],[-0.04,-0.17],[0.16,-0.19],[0.37,-0.16],[0.60,-0.18],[0.86,-0.20],[1.14,-0.17],[1.42,-0.19],
  [-1.17,-0.24],[-0.81,-0.23],[-0.52,-0.25],[-0.25,-0.22],[0.02,-0.24],[0.29,-0.26],[0.58,-0.23],[0.91,-0.25],[1.26,-0.24],
  [-0.88,-0.30],[-0.41,-0.29],[0.03,-0.31],[0.47,-0.30],[0.94,-0.29],
  [-0.71,0.27],[-0.25,0.28],[0.17,0.27],[0.61,0.28],
  [-1.05,0.21],[-0.72,0.22],[-0.44,0.21],[-0.17,0.22],[0.09,0.21],[0.37,0.22],[0.68,0.21],[1.02,0.22],
  [-1.30,0.15],[-0.99,0.16],[-0.76,0.15],[-0.55,0.16],[-0.36,0.15],[-0.18,0.16],[0.00,0.15],[0.19,0.16],[0.39,0.15],[0.62,0.16],[0.90,0.15],[1.26,0.16],
  [-1.42,0.09],[-1.13,0.10],[-0.91,0.09],[-0.74,0.10],[-0.59,0.09],[-0.45,0.10],[-0.31,0.09],[-0.19,0.10],[-0.07,0.09],[0.06,0.10],[0.20,0.09],[0.35,0.10],[0.53,0.09],[0.78,0.10],[1.09,0.09],
  [-1.49,0.03],[-1.19,0.02],[-0.98,0.03],[-0.82,0.02],[-0.68,0.03],[-0.55,0.02],[-0.43,0.03],[-0.32,0.02],[-0.21,0.03],[-0.10,0.02],[0.01,0.03],[0.12,0.02],[0.24,0.03],[0.38,0.02],[0.55,0.03],[0.79,0.02],[1.11,0.03],
  [-1.46,-0.03],[-1.16,-0.02],[-0.95,-0.03],[-0.79,-0.02],[-0.65,-0.03],[-0.52,-0.02],[-0.41,-0.03],[-0.30,-0.02],[-0.19,-0.03],[-0.08,-0.02],[0.03,-0.03],[0.14,-0.02],[0.26,-0.03],[0.40,-0.02],[0.58,-0.03],[0.83,-0.02],[1.15,-0.03],
  [-1.39,-0.09],[-1.09,-0.08],[-0.89,-0.09],[-0.72,-0.08],[-0.57,-0.09],[-0.44,-0.08],[-0.32,-0.09],[-0.20,-0.08],[-0.08,-0.09],[0.05,-0.08],[0.19,-0.09],[0.34,-0.08],[0.52,-0.09],[0.76,-0.08],[1.06,-0.09],
  [-1.27,-0.15],[-0.95,-0.14],[-0.73,-0.15],[-0.53,-0.14],[-0.35,-0.15],[-0.17,-0.14],[0.01,-0.15],[0.20,-0.14],[0.40,-0.15],[0.63,-0.14],[0.92,-0.15],[1.29,-0.14],
  [-1.03,-0.21],[-0.69,-0.22],[-0.40,-0.21],[-0.13,-0.22],[0.14,-0.21],[0.42,-0.22],[0.73,-0.21],[1.07,-0.22],
  [-0.66,-0.27],[-0.19,-0.28],[0.24,-0.27],[0.71,-0.28]
];
const betaS2clDense = [
  [0.24, [-0.72,-0.38,-0.06,0.26,0.60]],
  [0.19, [-1.01,-0.71,-0.45,-0.21,0.03,0.27,0.53,0.83,1.15]],
  [0.13, [-1.15,-0.88,-0.66,-0.46,-0.27,-0.09,0.09,0.28,0.48,0.70,0.96,1.26]],
  [0.07, [-1.23,-0.97,-0.77,-0.59,-0.43,-0.28,-0.13,0.02,0.17,0.33,0.50,0.69,0.92,1.22]],
  [0.01, [-1.26,-1.01,-0.81,-0.64,-0.48,-0.33,-0.19,-0.05,0.09,0.23,0.38,0.55,0.74,0.97,1.27]],
  [-0.05, [-1.21,-0.96,-0.76,-0.59,-0.44,-0.29,-0.15,-0.01,0.13,0.28,0.44,0.62,0.83,1.09,1.34]],
  [-0.11, [-1.14,-0.88,-0.67,-0.48,-0.31,-0.15,0.01,0.17,0.34,0.53,0.75,1.02,1.29]],
  [-0.17, [-1.00,-0.72,-0.48,-0.26,-0.05,0.16,0.38,0.62,0.89,1.18]],
  [-0.23, [-0.74,-0.41,-0.11,0.19,0.50,0.83]],
  [0.21, [-0.55,-0.22,0.10,0.43]],
  [0.16, [-0.86,-0.58,-0.33,-0.09,0.15,0.40,0.67,0.98]],
  [0.10, [-1.02,-0.77,-0.56,-0.37,-0.19,-0.01,0.17,0.36,0.57,0.81,1.10]],
  [0.04, [-1.09,-0.85,-0.66,-0.49,-0.33,-0.18,-0.03,0.12,0.27,0.43,0.61,0.82,1.08]],
  [-0.02, [-1.10,-0.87,-0.68,-0.51,-0.36,-0.21,-0.06,0.09,0.24,0.40,0.58,0.79,1.04,1.30]],
  [-0.08, [-1.06,-0.82,-0.62,-0.45,-0.29,-0.13,0.03,0.19,0.36,0.55,0.77,1.03]],
  [-0.14, [-0.94,-0.69,-0.47,-0.27,-0.08,0.11,0.31,0.52,0.76,1.04]],
  [-0.20, [-0.64,-0.33,-0.03,0.27,0.58,0.90]],
  [0.265, [-0.45,-0.10,0.22,0.55]],
  [0.185, [-0.80,-0.50,-0.24,0.01,0.25,0.51,0.79]],
  [0.115, [-1.05,-0.79,-0.57,-0.37,-0.18,0.00,0.18,0.37,0.58,0.82,1.12]],
  [0.055, [-1.15,-0.89,-0.69,-0.51,-0.35,-0.20,-0.05,0.10,0.25,0.41,0.59,0.79,1.03,1.33]],
  [-0.035, [-1.16,-0.90,-0.70,-0.52,-0.36,-0.21,-0.06,0.09,0.24,0.40,0.58,0.78,1.02,1.31]],
  [-0.095, [-1.08,-0.82,-0.61,-0.42,-0.25,-0.09,0.07,0.23,0.41,0.61,0.84,1.12]],
  [-0.155, [-0.86,-0.59,-0.36,-0.15,0.06,0.27,0.50,0.76,1.05]],
  [-0.215, [-0.47,-0.15,0.16,0.47,0.78]],
  [-0.26, [-0.30,0.10,0.50]]
];

const alphaS2il = [
  [-4.81,-0.41],[-4.21,0.09],[-3.93,-0.24],[-3.93,-0.42],[-3.86,0.06],[-3.83,0.36],[-3.80,0.44],[-3.61,0.44],[-3.75,-0.02],[-3.64,0.00],
  [-3.06,-0.09],[-2.65,0.28],[-2.65,0.08],[-2.55,-0.45],[-2.49,-0.09],[-2.43,0.08],[-2.16,0.22],[-2.06,0.44],[-1.96,0.42],[-1.96,0.22],
  [-1.97,-0.09],[-1.85,-0.28],[-1.75,0.49],[-1.60,0.46],[-1.37,0.52],[-1.35,0.56],[-1.25,0.41],[-1.14,0.36],[-1.61,-0.80],[-1.31,-0.45],
  [-1.00,-0.49],[-0.78,-0.42],[-0.74,-0.58],[-0.64,-0.47],[-0.54,-0.33],[-0.40,-0.35],[-0.31,-0.55],[-0.25,-0.92],[-0.06,-0.47],[0.11,-0.43],
  [0.13,-0.42],[0.23,-0.35],[-0.74,0.35],[-0.77,0.34],[-0.56,0.40],[-0.17,0.45],[-0.06,0.54],[0.03,0.77],[0.36,0.60],[0.47,0.34],
  [0.35,0.37],[0.70,-0.47],[0.77,-0.48],[1.11,-0.58],[1.27,-0.28],[1.31,-0.27],[0.93,0.35],[1.40,0.55],[1.58,0.46],[1.48,-0.19],
  [1.81,-0.21],[1.63,-0.10],[1.76,-0.11],[1.99,0.28],[2.19,0.28],[2.05,0.12],[2.04,0.06],[2.21,0.19],[2.34,-0.19],[2.13,-0.27],
  [2.06,-0.12],[2.35,0.72],[2.38,0.33],[2.47,0.37],[2.52,0.08],[2.35,-0.01],[2.69,0.06],[2.80,0.00],[3.05,0.12],[3.26,0.22],
  [3.47,0.01],[3.88,-0.09],[3.20,-0.46],[3.74,-0.44],[5.00,0.26],
  [-1.02,0.27],[-0.55,0.26],[-0.11,0.28],[0.33,0.27],[0.81,0.26],
  [-1.38,0.22],[-0.99,0.23],[-0.68,0.21],[-0.39,0.23],[-0.12,0.22],[0.16,0.20],[0.45,0.23],[0.80,0.21],[1.22,0.22],
  [-1.63,0.16],[-1.27,0.17],[-1.00,0.15],[-0.77,0.17],[-0.55,0.16],[-0.34,0.14],[-0.14,0.17],[0.07,0.15],[0.28,0.17],[0.51,0.16],[0.78,0.14],[1.09,0.17],[1.51,0.16],
  [-1.74,0.11],[-1.45,0.12],[-1.21,0.10],[-1.01,0.12],[-0.83,0.11],[-0.66,0.09],[-0.50,0.12],[-0.35,0.10],[-0.20,0.12],[-0.06,0.11],[0.09,0.09],[0.24,0.12],[0.41,0.10],[0.60,0.12],[0.83,0.11],[1.12,0.09],[1.56,0.11],
  [-1.79,0.05],[-1.53,0.06],[-1.31,0.04],[-1.12,0.06],[-0.96,0.05],[-0.82,0.03],[-0.68,0.06],[-0.55,0.04],[-0.43,0.06],[-0.31,0.05],[-0.19,0.03],[-0.08,0.06],[0.04,0.04],[0.16,0.06],[0.29,0.05],[0.43,0.03],[0.58,0.06],[0.76,0.04],[0.98,0.06],[1.27,0.05],[1.68,0.04],
  [-1.82,0.00],[-1.57,-0.01],[-1.36,0.01],[-1.18,-0.02],[-1.03,0.00],[-0.89,0.02],[-0.76,-0.01],[-0.64,0.01],[-0.52,-0.02],[-0.41,0.00],[-0.30,0.02],[-0.19,-0.01],[-0.08,0.01],[0.03,-0.02],[0.14,0.00],[0.25,0.02],[0.37,-0.01],[0.50,0.01],[0.65,-0.02],[0.83,0.00],[1.05,0.02],[1.34,-0.01],[1.73,0.00],
  [-1.74,-0.05],[-1.49,-0.06],[-1.28,-0.04],[-1.10,-0.07],[-0.95,-0.05],[-0.81,-0.03],[-0.68,-0.06],[-0.56,-0.04],[-0.44,-0.07],[-0.32,-0.05],[-0.21,-0.03],[-0.09,-0.06],[0.02,-0.04],[0.14,-0.07],[0.27,-0.05],[0.41,-0.03],[0.57,-0.06],[0.75,-0.04],[0.98,-0.07],[1.27,-0.05],[1.64,-0.06],
  [-1.65,-0.11],[-1.36,-0.10],[-1.13,-0.12],[-0.94,-0.09],[-0.77,-0.11],[-0.61,-0.13],[-0.46,-0.10],[-0.32,-0.12],[-0.17,-0.09],[-0.03,-0.11],[0.12,-0.13],[0.27,-0.10],[0.44,-0.12],[0.64,-0.09],[0.88,-0.11],[1.18,-0.13],[1.55,-0.10],
  [-1.49,-0.16],[-1.15,-0.17],[-0.90,-0.15],[-0.68,-0.17],[-0.47,-0.16],[-0.27,-0.18],[-0.07,-0.15],[0.14,-0.17],[0.35,-0.16],[0.59,-0.18],[0.86,-0.15],[1.16,-0.17],[1.47,-0.16],
  [-1.22,-0.22],[-0.86,-0.21],[-0.57,-0.23],[-0.29,-0.20],[-0.02,-0.22],[0.26,-0.24],[0.55,-0.21],[0.88,-0.23],[1.24,-0.22],
  [-0.92,-0.27],[-0.45,-0.26],[-0.01,-0.28],[0.43,-0.27],[0.92,-0.26],
  [-0.78,0.24],[-0.33,0.25],[0.10,0.24],[0.57,0.25],
  [-1.13,0.19],[-0.80,0.20],[-0.51,0.19],[-0.24,0.20],[0.03,0.19],[0.31,0.20],[0.63,0.19],[0.99,0.20],
  [-1.42,0.13],[-1.08,0.14],[-0.84,0.13],[-0.62,0.14],[-0.43,0.13],[-0.25,0.14],[-0.07,0.13],[0.12,0.14],[0.32,0.13],[0.56,0.14],[0.86,0.13],[1.28,0.14],
  [-1.58,0.08],[-1.23,0.09],[-0.99,0.08],[-0.80,0.09],[-0.64,0.08],[-0.49,0.09],[-0.36,0.08],[-0.23,0.09],[-0.11,0.08],[0.02,0.09],[0.16,0.08],[0.32,0.09],[0.51,0.08],[0.77,0.09],[1.12,0.08],
  [-1.64,0.02],[-1.29,0.03],[-1.06,0.02],[-0.88,0.03],[-0.73,0.02],[-0.59,0.03],[-0.47,0.02],[-0.35,0.03],[-0.24,0.02],[-0.13,0.03],[-0.02,0.02],[0.09,0.03],[0.21,0.02],[0.35,0.03],[0.53,0.02],[0.78,0.03],[1.14,0.02],
  [-1.61,-0.03],[-1.26,-0.02],[-1.03,-0.03],[-0.85,-0.02],[-0.70,-0.03],[-0.57,-0.02],[-0.45,-0.03],[-0.33,-0.02],[-0.22,-0.03],[-0.11,-0.02],[0.00,-0.03],[0.11,-0.02],[0.23,-0.03],[0.37,-0.02],[0.56,-0.03],[0.81,-0.02],[1.19,-0.03],
  [-1.52,-0.08],[-1.19,-0.09],[-0.96,-0.08],[-0.78,-0.09],[-0.62,-0.08],[-0.48,-0.09],[-0.35,-0.08],[-0.22,-0.09],[-0.10,-0.08],[0.03,-0.09],[0.18,-0.08],[0.34,-0.09],[0.54,-0.08],[0.79,-0.09],[1.14,-0.08],
  [-1.33,-0.14],[-1.00,-0.13],[-0.77,-0.14],[-0.56,-0.13],[-0.37,-0.14],[-0.18,-0.13],[0.01,-0.14],[0.21,-0.13],[0.43,-0.14],[0.69,-0.13],[1.00,-0.14],[1.35,-0.13],
  [-1.06,-0.19],[-0.72,-0.20],[-0.43,-0.19],[-0.16,-0.20],[0.12,-0.19],[0.41,-0.20],[0.72,-0.19],[1.08,-0.20],
  [-0.69,-0.24],[-0.24,-0.25],[0.21,-0.24],[0.67,-0.25]
];
const alphaS2ilDense = [
  [0.22, [-0.62,-0.28,0.04,0.36,0.70]],
  [0.165, [-0.91,-0.61,-0.35,-0.11,0.13,0.37,0.63,0.93,1.25]],
  [0.11, [-1.05,-0.78,-0.56,-0.36,-0.17,0.01,0.19,0.38,0.58,0.80,1.06,1.36]],
  [0.055, [-1.13,-0.87,-0.67,-0.49,-0.33,-0.18,-0.03,0.12,0.27,0.43,0.60,0.79,1.02,1.32]],
  [0.00, [-1.16,-0.91,-0.71,-0.54,-0.38,-0.23,-0.09,0.05,0.19,0.33,0.48,0.65,0.84,1.07,1.37]],
  [-0.055, [-1.11,-0.86,-0.66,-0.49,-0.34,-0.19,-0.05,0.09,0.23,0.38,0.54,0.72,0.93,1.19,1.44]],
  [-0.11, [-1.04,-0.78,-0.57,-0.38,-0.21,-0.05,0.11,0.27,0.44,0.63,0.85,1.12,1.39]],
  [-0.165, [-0.90,-0.62,-0.38,-0.16,0.05,0.26,0.48,0.72,0.99,1.28]],
  [-0.22, [-0.64,-0.31,-0.01,0.29,0.60,0.93]],
  [0.19, [-0.45,-0.12,0.20,0.52,0.86]],
  [0.135, [-0.78,-0.50,-0.25,-0.01,0.23,0.48,0.75,1.06]],
  [0.08, [-0.95,-0.70,-0.49,-0.29,-0.10,0.08,0.26,0.46,0.67,0.91,1.20]],
  [0.025, [-1.02,-0.78,-0.59,-0.42,-0.26,-0.11,0.04,0.19,0.34,0.51,0.70,0.92,1.19]],
  [-0.03, [-1.00,-0.76,-0.57,-0.40,-0.25,-0.10,0.05,0.20,0.35,0.51,0.69,0.89,1.13,1.41]],
  [-0.085, [-0.95,-0.70,-0.50,-0.32,-0.15,0.01,0.17,0.34,0.52,0.72,0.96,1.24]],
  [-0.14, [-0.80,-0.54,-0.31,-0.10,0.11,0.32,0.55,0.80,1.09]],
  [-0.195, [-0.50,-0.18,0.13,0.44,0.77]],
  [0.245, [-0.35,0.00,0.35,0.70]],
  [0.205, [-0.95,-0.64,-0.37,-0.12,0.12,0.37,0.64,0.95,1.30]],
  [0.15, [-1.30,-1.02,-0.79,-0.58,-0.38,-0.19,0.00,0.19,0.39,0.61,0.86,1.15,1.46]],
  [0.095, [-1.42,-1.14,-0.92,-0.73,-0.55,-0.38,-0.22,-0.06,0.10,0.26,0.43,0.62,0.83,1.08,1.38]],
  [0.04, [-1.48,-1.20,-0.98,-0.79,-0.62,-0.46,-0.31,-0.16,-0.01,0.14,0.29,0.45,0.63,0.83,1.06,1.33,1.60]],
  [-0.015, [-1.47,-1.19,-0.97,-0.78,-0.61,-0.45,-0.30,-0.15,0.00,0.15,0.30,0.46,0.64,0.84,1.07,1.34,1.62]],
  [-0.07, [-1.40,-1.12,-0.90,-0.71,-0.54,-0.38,-0.22,-0.06,0.10,0.26,0.43,0.62,0.84,1.10,1.40]],
  [-0.125, [-1.26,-0.98,-0.75,-0.55,-0.36,-0.18,0.00,0.18,0.37,0.58,0.82,1.10,1.42]],
  [-0.18, [-1.02,-0.72,-0.46,-0.22,0.01,0.24,0.48,0.75,1.06]],
  [-0.235, [-0.60,-0.25,0.08,0.41,0.76]]
];

const betaS2il = [
  [-2.91,0.06],[-2.35,-0.12],[-2.22,0.00],[-2.09,0.09],[-2.05,0.16],[-2.01,0.10],[-1.93,0.09],[-1.87,0.16],[-1.67,-0.45],[-1.30,-0.42],
  [-1.30,-0.48],[-0.95,-0.42],[-0.95,-0.58],[-0.66,-0.48],[-0.52,-0.44],[-0.77,-0.92],[0.03,-0.79],[0.00,-0.50],[0.12,-0.47],[0.36,-0.55],
  [0.57,-0.44],[0.63,-0.43],[0.76,-0.47],[0.94,-0.49],[0.12,0.77],[0.91,0.72],[-1.36,0.54],[-0.58,0.60],[-0.27,0.55],[0.03,0.56],
  [0.36,0.50],[0.72,0.46],[-0.92,0.45],[-0.61,0.45],[-1.04,0.41],[1.60,0.44],[2.28,0.53],[2.09,0.35],[1.78,0.24],[2.37,0.22],
  [2.73,0.23],[3.04,0.06],[2.27,0.09],[2.33,0.10],[2.40,-0.01],[2.59,-0.13],[2.36,-0.21],[2.22,-0.44],[3.13,-0.58],[1.39,-0.40],
  [1.09,-0.35],[1.60,-0.17],[1.60,-0.22],[1.69,-0.13],[1.82,-0.10],[1.93,0.10],[1.76,0.08],[1.50,0.22],[1.12,0.34],
  [-0.98,0.26],[-0.55,0.25],[-0.13,0.27],[0.29,0.26],[0.72,0.25],
  [-1.29,0.21],[-0.95,0.20],[-0.67,0.22],[-0.40,0.20],[-0.14,0.21],[0.12,0.19],[0.39,0.22],[0.70,0.20],[1.08,0.21],
  [-1.49,0.15],[-1.18,0.16],[-0.94,0.14],[-0.73,0.16],[-0.53,0.15],[-0.34,0.13],[-0.15,0.16],[0.04,0.14],[0.24,0.16],[0.45,0.15],[0.69,0.13],[0.97,0.16],[1.33,0.15],
  [-1.60,0.09],[-1.33,0.10],[-1.11,0.08],[-0.93,0.10],[-0.77,0.09],[-0.62,0.07],[-0.47,0.10],[-0.34,0.08],[-0.20,0.10],[-0.07,0.09],[0.07,0.07],[0.21,0.10],[0.37,0.08],[0.54,0.10],[0.75,0.09],[1.02,0.07],[1.41,0.09],
  [-1.65,0.04],[-1.41,0.05],[-1.21,0.03],[-1.04,0.05],[-0.89,0.04],[-0.76,0.02],[-0.63,0.05],[-0.51,0.03],[-0.40,0.05],[-0.29,0.04],[-0.18,0.02],[-0.07,0.05],[0.04,0.03],[0.15,0.05],[0.27,0.04],[0.40,0.02],[0.54,0.05],[0.70,0.03],[0.90,0.05],[1.16,0.04],[1.50,0.03],
  [-1.68,-0.01],[-1.45,-0.02],[-1.26,0.00],[-1.10,-0.03],[-0.96,-0.01],[-0.83,0.01],[-0.71,-0.02],[-0.60,0.00],[-0.49,-0.03],[-0.39,-0.01],[-0.29,0.01],[-0.19,-0.02],[-0.09,0.00],[0.01,-0.03],[0.11,-0.01],[0.22,0.01],[0.33,-0.02],[0.45,0.00],[0.59,-0.03],[0.75,-0.01],[0.95,0.01],[1.21,-0.02],[1.55,-0.01],
  [-1.61,-0.07],[-1.38,-0.08],[-1.18,-0.06],[-1.01,-0.09],[-0.87,-0.07],[-0.74,-0.05],[-0.62,-0.08],[-0.51,-0.06],[-0.40,-0.09],[-0.29,-0.07],[-0.19,-0.05],[-0.08,-0.08],[0.03,-0.06],[0.14,-0.09],[0.26,-0.07],[0.39,-0.05],[0.53,-0.08],[0.70,-0.06],[0.91,-0.09],[1.18,-0.07],[1.51,-0.08],
  [-1.52,-0.12],[-1.26,-0.13],[-1.05,-0.11],[-0.87,-0.14],[-0.71,-0.12],[-0.56,-0.10],[-0.42,-0.13],[-0.29,-0.11],[-0.15,-0.14],[-0.02,-0.12],[0.12,-0.10],[0.26,-0.13],[0.42,-0.11],[0.60,-0.14],[0.82,-0.12],[1.09,-0.10],[1.43,-0.13],
  [-1.39,-0.18],[-1.08,-0.19],[-0.85,-0.17],[-0.64,-0.19],[-0.45,-0.18],[-0.26,-0.16],[-0.07,-0.19],[0.12,-0.17],[0.32,-0.19],[0.54,-0.18],[0.79,-0.16],[1.07,-0.19],[1.36,-0.18],
  [-1.15,-0.23],[-0.82,-0.24],[-0.55,-0.22],[-0.29,-0.24],[-0.04,-0.23],[0.22,-0.25],[0.49,-0.22],[0.80,-0.24],[1.14,-0.23],
  [-0.85,-0.29],[-0.43,-0.28],[-0.03,-0.30],[0.37,-0.29],[0.81,-0.28],
  [-0.76,0.23],[-0.33,0.24],[0.07,0.23],[0.51,0.24],
  [-1.07,0.17],[-0.77,0.18],[-0.49,0.17],[-0.24,0.18],[0.01,0.17],[0.27,0.18],[0.56,0.17],[0.89,0.18],
  [-1.34,0.12],[-1.02,0.13],[-0.80,0.12],[-0.60,0.13],[-0.42,0.12],[-0.25,0.13],[-0.08,0.12],[0.10,0.13],[0.29,0.12],[0.51,0.13],[0.79,0.12],[1.18,0.13],
  [-1.48,0.06],[-1.15,0.07],[-0.93,0.06],[-0.76,0.07],[-0.61,0.06],[-0.47,0.07],[-0.35,0.06],[-0.23,0.07],[-0.11,0.06],[0.01,0.07],[0.14,0.06],[0.29,0.07],[0.47,0.06],[0.71,0.07],[1.03,0.06],
  [-1.53,0.01],[-1.21,0.02],[-0.99,0.01],[-0.82,0.02],[-0.68,0.01],[-0.55,0.02],[-0.44,0.01],[-0.33,0.02],[-0.23,0.01],[-0.13,0.02],[-0.02,0.01],[0.08,0.02],[0.19,0.01],[0.32,0.02],[0.49,0.01],[0.72,0.02],[1.06,0.01],
  [-1.50,-0.04],[-1.18,-0.05],[-0.97,-0.04],[-0.80,-0.05],[-0.66,-0.04],[-0.53,-0.05],[-0.42,-0.04],[-0.31,-0.05],[-0.21,-0.04],[-0.10,-0.05],[0.00,-0.04],[0.10,-0.05],[0.22,-0.04],[0.35,-0.05],[0.52,-0.04],[0.76,-0.05],[1.10,-0.04],
  [-1.43,-0.10],[-1.12,-0.09],[-0.91,-0.10],[-0.73,-0.09],[-0.58,-0.10],[-0.45,-0.09],[-0.33,-0.10],[-0.21,-0.09],[-0.09,-0.10],[0.04,-0.09],[0.18,-0.10],[0.33,-0.09],[0.51,-0.10],[0.75,-0.09],[1.06,-0.10],
  [-1.29,-0.15],[-0.99,-0.16],[-0.76,-0.15],[-0.56,-0.16],[-0.38,-0.15],[-0.20,-0.16],[-0.02,-0.15],[0.17,-0.16],[0.38,-0.15],[0.62,-0.16],[0.92,-0.15],[1.25,-0.16],
  [-1.02,-0.21],[-0.69,-0.20],[-0.41,-0.21],[-0.15,-0.20],[0.11,-0.21],[0.38,-0.20],[0.68,-0.21],[1.01,-0.20],
  [-0.67,-0.26],[-0.23,-0.27],[0.18,-0.26],[0.62,-0.27]
];
const betaS2ilDense = [
  [0.21, [-0.67,-0.33,-0.01,0.31,0.65]],
  [0.155, [-0.96,-0.66,-0.40,-0.16,0.08,0.32,0.58,0.88,1.20]],
  [0.10, [-1.10,-0.83,-0.61,-0.41,-0.22,-0.04,0.14,0.33,0.53,0.75,1.01,1.31]],
  [0.045, [-1.18,-0.92,-0.72,-0.54,-0.38,-0.23,-0.08,0.07,0.22,0.38,0.55,0.74,0.97,1.27]],
  [-0.01, [-1.21,-0.96,-0.76,-0.59,-0.43,-0.28,-0.14,0.00,0.14,0.28,0.43,0.60,0.79,1.02,1.32]],
  [-0.065, [-1.16,-0.91,-0.71,-0.54,-0.39,-0.24,-0.10,0.04,0.18,0.33,0.49,0.67,0.88,1.14,1.39]],
  [-0.12, [-1.09,-0.83,-0.62,-0.43,-0.26,-0.10,0.06,0.22,0.39,0.58,0.80,1.07,1.34]],
  [-0.175, [-0.95,-0.67,-0.43,-0.21,0.00,0.21,0.43,0.67,0.94,1.23]],
  [-0.23, [-0.69,-0.36,-0.06,0.24,0.55,0.88]],
  [0.18, [-0.50,-0.17,0.15,0.47,0.81]],
  [0.125, [-0.83,-0.55,-0.30,-0.06,0.18,0.43,0.70,1.01]],
  [0.07, [-1.01,-0.76,-0.55,-0.35,-0.16,0.02,0.20,0.40,0.61,0.85,1.14]],
  [0.015, [-1.08,-0.84,-0.65,-0.48,-0.32,-0.17,-0.02,0.13,0.28,0.45,0.64,0.86,1.13]],
  [-0.04, [-1.07,-0.83,-0.64,-0.47,-0.32,-0.17,-0.02,0.13,0.28,0.44,0.62,0.82,1.06,1.34]],
  [-0.095, [-1.02,-0.77,-0.57,-0.39,-0.22,-0.06,0.10,0.27,0.45,0.65,0.89,1.17]],
  [-0.15, [-0.87,-0.61,-0.38,-0.17,0.04,0.25,0.48,0.73,1.02]],
  [-0.205, [-0.60,-0.28,0.03,0.34,0.67]],
  [-0.26, [-0.35,0.05,0.45]],
  [0.24, [-0.40,-0.05,0.30,0.65]],
  [0.19, [-0.90,-0.60,-0.33,-0.08,0.16,0.41,0.68,0.99,1.32]],
  [0.135, [-1.22,-0.94,-0.71,-0.50,-0.30,-0.11,0.08,0.27,0.47,0.69,0.94,1.23,1.52]],
  [0.08, [-1.35,-1.07,-0.85,-0.66,-0.48,-0.31,-0.15,0.01,0.17,0.33,0.50,0.69,0.90,1.15,1.45]],
  [0.025, [-1.40,-1.12,-0.90,-0.71,-0.54,-0.38,-0.23,-0.08,0.07,0.22,0.37,0.53,0.71,0.91,1.14,1.41,1.62]],
  [-0.03, [-1.38,-1.10,-0.88,-0.69,-0.52,-0.36,-0.21,-0.06,0.09,0.24,0.39,0.55,0.73,0.93,1.16,1.43]],
  [-0.085, [-1.31,-1.03,-0.81,-0.62,-0.45,-0.29,-0.13,0.03,0.19,0.35,0.52,0.71,0.93,1.19,1.48]],
  [-0.14, [-1.16,-0.88,-0.65,-0.45,-0.26,-0.08,0.10,0.28,0.47,0.68,0.92,1.20]],
  [-0.195, [-0.92,-0.62,-0.36,-0.12,0.11,0.34,0.58,0.85,1.15]],
  [-0.25, [-0.50,-0.15,0.18,0.51,0.85]]
];

// ---- layout ----
const W = 1013, H = 773;
const colLeft = [152, 631];
const rowTop = [78, 318, 557];
const pw = 377, ph = 162;
const FONT = "'Liberation Sans', Arial, Helvetica, sans-serif";

// [y, [x...]] rows -> [x, y] pairs
const unroll = rows => rows.flatMap(([yv, xs]) => xs.map(xv => [xv, yv]));

const panels = [
  { row: 0, col: 0, data: alphaS1.concat(unroll(alphaS1Dense)) },
  { row: 0, col: 1, data: betaS1.concat(unroll(betaS1Dense)) },
  { row: 1, col: 0, data: alphaS2cl.concat(unroll(alphaS2clDense)) },
  { row: 1, col: 1, data: betaS2cl.concat(unroll(betaS2clDense)) },
  { row: 2, col: 0, data: alphaS2il.concat(unroll(alphaS2ilDense)) },
  { row: 2, col: 1, data: betaS2il.concat(unroll(betaS2ilDense)) }
];
const dotRadius = [1.7, 1.7, 1.7, 2.35, 2.35, 2.35];

const svg = d3.select("body").append("svg")
  .attr("width", W).attr("height", H)
  .style("font-family", FONT);

// column headings
svg.selectAll("text.col-title").data(colTitles).join("text")
  .attr("class", "col-title")
  .attr("x", (d, i) => [345, 822][i])
  .attr("y", 30)
  .attr("text-anchor", "middle")
  .attr("font-size", 22)
  .text(d => d);

// row headings
rowTitles.forEach((lines, r) => {
  const baseY = [118, 358, 593][r];
  const t = svg.append("text")
    .attr("text-anchor", "middle")
    .attr("font-size", 22);
  lines.forEach((ln, k) => {
    t.append("tspan").attr("x", 61).attr("y", baseY + k * 25).text(ln);
  });
});

panels.forEach((p, i) => {
  const g = svg.append("g")
    .attr("transform", `translate(${colLeft[p.col]},${rowTop[p.row]})`);
  const x = d3.scaleLinear().domain([-5, 5]).range([0, pw]);
  const y = d3.scaleLinear().domain([-1, 1]).range([ph, 0]);

  // points
  g.append("g").selectAll("circle").data(p.data).join("circle")
    .attr("cx", d => x(d[0]))
    .attr("cy", d => y(d[1]))
    .attr("r", dotRadius[i])
    .attr("fill", "#000");

  // regression line
  if (fitSlope[i] !== null) {
    const a = fitIntercept[i], b = fitSlope[i];
    g.append("line")
      .attr("x1", x(-5)).attr("y1", y(a + b * -5))
      .attr("x2", x(5)).attr("y2", y(a + b * 5))
      .attr("stroke", "#000").attr("stroke-width", 1.2);
  }

  // axes: ticks point inward
  const xa = g.append("g").attr("transform", `translate(0,${ph})`)
    .call(d3.axisBottom(x).tickValues(xTicks).tickSize(-6).tickSizeOuter(0).tickFormat(""));
  const ya = g.append("g")
    .call(d3.axisLeft(y).tickValues(yTicks).tickSize(-6).tickSizeOuter(0).tickFormat(""));
  [xa, ya].forEach(a => {
    a.select(".domain").attr("stroke", "#000").attr("stroke-width", 2).attr("stroke-linecap", "square");
    a.selectAll(".tick line").attr("stroke", "#000").attr("stroke-width", 2);
  });

  // statistics
  g.append("text")
    .attr("x", pw).attr("y", 12)
    .attr("text-anchor", "end").attr("font-size", 16.5)
    .text(rTexts[i]);
  g.append("text")
    .attr("x", pw).attr("y", 30)
    .attr("text-anchor", "end").attr("font-size", 16.5)
    .attr("font-weight", pSignificant[i] ? "bold" : "normal")
    .text(pTexts[i]);

  // scale labels only on the bottom-right panel
  if (p.row === 2 && p.col === 1) {
    g.selectAll("text.xl").data(xTickLabels).join("text")
      .attr("class", "xl")
      .attr("x", d => x(d) - (d < 0 ? 4 : 0))
      .attr("y", ph + 21)
      .attr("text-anchor", "middle").attr("font-size", 17)
      .text(d => d);
    g.selectAll("text.yl").data(yTickLabels).join("text")
      .attr("class", "yl")
      .attr("x", -6)
      .attr("y", d => y(d) + 6)
      .attr("text-anchor", "end").attr("font-size", 17)
      .text(d => d);

    // y-axis unit
    g.append("text").attr("x", -48).attr("y", 21)
      .attr("text-anchor", "middle").attr("font-size", 15).text("B");
    const yu = g.append("text").attr("x", -39).attr("y", 41)
      .attr("text-anchor", "middle").attr("font-size", 16.5);
    yu.append("tspan").text("(10");
    yu.append("tspan").attr("font-size", 11).attr("dy", -6).text("-11");
    yu.append("tspan").attr("dy", 6).text(" T)");

    // x-axis unit
    g.append("text").attr("x", 322).attr("y", ph + 29)
      .attr("text-anchor", "middle").attr("font-size", 15).text("B");
    const xu = g.append("text").attr("x", 322).attr("y", ph + 47)
      .attr("text-anchor", "middle").attr("font-size", 16.5);
    xu.append("tspan").text("(10");
    xu.append("tspan").attr("font-size", 11).attr("dy", -6).text("-12");
    xu.append("tspan").attr("dy", 6).text(" T)");
  }
});
</script>
</body>
</html>
